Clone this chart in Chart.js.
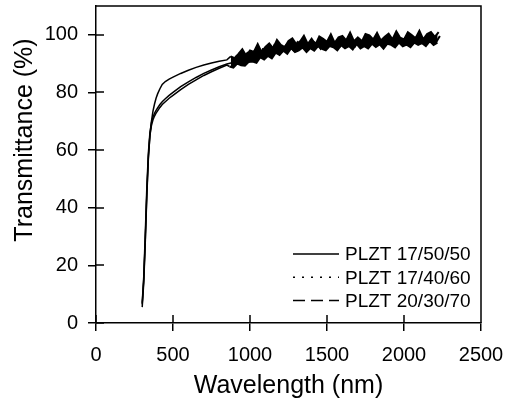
<!DOCTYPE html>
<html>
<head>
<meta charset="utf-8">
<script src="https://cdn.jsdelivr.net/npm/chart.js@4.4.0/dist/chart.umd.min.js"></script>
<style>
  html, body { margin: 0; padding: 0; background: #fff; }
  #wrap { width: 507px; height: 402px; }
</style>
</head>
<body>
<div id="wrap"><canvas id="chart"></canvas></div>
<script>
// Wavelength (nm) for each sample; the spectra were sampled on slightly offset grids
const wl175050 = [
  300, 310, 320, 330, 340, 350, 360, 370, 380, 390, 400, 415, 430, 450, 475, 500,
  550, 600, 650, 700, 750, 800, 850,
  875, 900, 925, 950, 975, 1000, 1025, 1050, 1075, 1100, 1125, 1150, 1175, 1200,
  1225, 1250, 1275, 1300, 1325, 1350, 1375, 1400, 1425, 1450, 1475, 1500, 1525,
  1550, 1575, 1600, 1625, 1650, 1675, 1700, 1725, 1750, 1775, 1800, 1825, 1850,
  1875, 1900, 1925, 1950, 1975, 2000, 2025, 2050, 2075, 2100, 2125, 2150, 2175,
  2200, 2225
];
const wl174060 = [
  300, 310, 320, 330, 340, 350, 360, 370, 380, 390, 400, 415, 430, 450, 475, 500,
  550, 600, 650, 700, 750, 800, 850,
  883, 908, 933, 958, 983, 1008, 1033, 1058, 1083, 1108, 1133, 1158, 1183, 1208,
  1233, 1258, 1283, 1308, 1333, 1358, 1383, 1408, 1433, 1458, 1483, 1508, 1533,
  1558, 1583, 1608, 1633, 1658, 1683, 1708, 1733, 1758, 1783, 1808, 1833, 1858,
  1883, 1908, 1933, 1958, 1983, 2008, 2033, 2058, 2083, 2108, 2133, 2158, 2183,
  2208, 2233
];
const wl203070 = [
  300, 310, 320, 330, 340, 350, 360, 370, 380, 390, 400, 415, 430, 450, 475, 500,
  550, 600, 650, 700, 750, 800, 850,
  867, 892, 917, 942, 967, 992, 1017, 1042, 1067, 1092, 1117, 1142, 1167, 1192,
  1217, 1242, 1267, 1292, 1317, 1342, 1367, 1392, 1417, 1442, 1467, 1492, 1517,
  1542, 1567, 1592, 1617, 1642, 1667, 1692, 1717, 1742, 1767, 1792, 1817, 1842,
  1867, 1892, 1917, 1942, 1967, 1992, 2017, 2042, 2067, 2092, 2117, 2142, 2167,
  2192, 2217
];

// Transmittance (%)
const plzt175050 = [
  5.5, 14, 28, 44, 57, 65, 70, 73.5, 76, 78, 79.5, 81.3, 82.8, 83.8, 84.6, 85.3,
  86.6, 87.7, 88.7, 89.5, 90.2, 90.8, 91.3,
  92.5, 91.9, 93.4, 95.0, 92.7, 94.6, 94.1, 96.8, 94.0, 95.8, 97.0, 95.3, 98.2, 96.5,
  95.7, 97.9, 98.8, 96.8, 97.7, 99.7, 96.8, 98.6, 96.6, 99.4, 98.6, 97.6, 100.2,
  97.2, 99.1, 99.6, 98.1, 100.8, 97.8, 99.1, 97.5, 100.3, 99.8, 98.4, 100.7, 98.0,
  99.3, 100.4, 98.4, 101.2, 99.0, 98.4, 100.9, 99.9, 98.8, 101.4, 98.4, 100.3, 101.0,
  99.3, 100.9
];
const plzt174060 = [
  7, 16, 31, 47, 59, 66, 69.5, 71.5, 72.8, 73.8, 74.6, 75.8, 76.8, 77.8, 79, 80,
  82, 83.7, 85.2, 86.6, 87.8, 88.9, 89.9,
  90.3, 92.2, 90.5, 92.4, 93.7, 91.9, 93.2, 92.1, 95.0, 94.7, 93.6, 96.4, 94.8, 94.2,
  96.3, 95.9, 94.6, 97.4, 95.7, 97.0, 95.4, 97.7, 96.9, 95.2, 97.7, 96.7, 98.5,
  96.2, 95.9, 97.8, 98.3, 96.9, 96.0, 98.7, 97.6, 96.6, 99.1, 97.0, 98.0, 96.3,
  98.7, 97.9, 96.7, 99.3, 97.4, 98.8, 96.8, 98.4, 99.3, 97.5, 96.9, 99.2, 98.8,
  97.4, 99.6
];
const plzt203070 = [
  6.5, 15, 29, 45, 57.5, 65, 68.5, 70.5, 71.8, 72.8, 73.6, 74.8, 75.8, 76.8, 78, 79,
  81, 82.8, 84.4, 85.9, 87.2, 88.4, 89.5,
  89.0, 88.6, 90.0, 89.4, 89.3, 90.6, 90.7, 90.3, 92.2, 91.4, 92.7, 91.8, 93.8, 93.0,
  94.5, 93.4, 95.4, 94.0, 94.6, 95.6, 94.0, 95.4, 94.5, 96.1, 95.1, 94.6, 96.1,
  95.7, 94.6, 96.4, 95.3, 96.1, 94.9, 96.9, 95.3, 96.1, 95.3, 96.9, 95.8, 96.7,
  95.2, 96.9, 96.5, 95.6, 97.3, 96.0, 96.6, 95.7, 97.3, 96.5, 97.1, 96.1, 97.8,
  96.5, 97.3
];

const seriesNames = ['PLZT 17/50/50', 'PLZT 17/40/60', 'PLZT 20/30/70'];
const legendDash = [[], [2, 7], [12, 6]];
const xTicks = [0, 500, 1000, 1500, 2000, 2500];
const yTicks = [0, 20, 40, 60, 80, 100];

const FONT = 'Arial, "Liberation Sans", sans-serif';
const NOISY_FROM = 860; // nm, where the traces become a dense noisy band

function toPoints(xs, ys) {
  return xs.map((w, i) => ({ x: w, y: ys[i] }));
}

// frame, inner tick halves, y title and the line-style legend
const framePlugin = {
  id: 'frame',
  afterDraw(chart) {
    const ctx = chart.ctx;
    const a = chart.chartArea;
    const xs = chart.scales.x, ys = chart.scales.y;
    ctx.save();
    ctx.strokeStyle = '#000';
    ctx.lineWidth = 1.5;
    ctx.beginPath();
    ctx.moveTo(a.left, a.top);
    ctx.lineTo(a.right, a.top);
    ctx.lineTo(a.right, a.bottom);
    xTicks.forEach(v => {
      const px = Math.round(xs.getPixelForValue(v));
      ctx.moveTo(px, a.bottom);
      ctx.lineTo(px, a.bottom - 8);
    });
    yTicks.forEach(v => {
      const py = Math.round(ys.getPixelForValue(v));
      ctx.moveTo(a.left, py);
      ctx.lineTo(a.left + 8, py);
    });
    ctx.stroke();

    // y axis title
    ctx.fillStyle = '#000';
    ctx.font = '25px ' + FONT;
    ctx.textAlign = 'center';
    ctx.textBaseline = 'middle';
    ctx.translate(25, 140);
    ctx.rotate(-Math.PI / 2);
    ctx.fillText('Transmittance (%)', 0, 0);
    ctx.restore();

    // legend
    ctx.save();
    ctx.strokeStyle = '#000';
    ctx.fillStyle = '#000';
    ctx.lineWidth = 1.5;
    ctx.font = '19px ' + FONT;
    ctx.textAlign = 'left';
    ctx.textBaseline = 'middle';
    seriesNames.forEach((name, i) => {
      const y = 254 + i * 23.3;
      ctx.setLineDash(legendDash[i]);
      ctx.beginPath();
      ctx.moveTo(293, y);
      ctx.lineTo(339, y);
      ctx.stroke();
      ctx.fillText(name, 345, y + 1);
    });
    ctx.restore();
  }
};

const wlSets = [wl175050, wl174060, wl203070];
const ctx = document.getElementById('chart').getContext('2d');
new Chart(ctx, {
  type: 'scatter',
  data: {
    datasets: [plzt175050, plzt174060, plzt203070].map((ys, i) => ({
      label: seriesNames[i],
      data: toPoints(wlSets[i], ys),
      showLine: true,
      borderColor: '#000',
      backgroundColor: '#000',
      borderWidth: 1.5,
      // the top trace is filled down to the bottom one where the noise merges them
      fill: i === 0 ? 2 : false,
      segment: {
        borderWidth: c => (c.p0.parsed.x >= NOISY_FROM ? 2 : 1.5),
        backgroundColor: c => (c.p0.parsed.x >= NOISY_FROM ? '#000' : 'rgba(0,0,0,0)')
      },
      pointRadius: 0,
      tension: 0
    }))
  },
  options: {
    responsive: true,
    maintainAspectRatio: false,
    animation: false,
    layout: { padding: { left: 0, top: 6, right: 26, bottom: 0 } },
    plugins: {
      legend: { display: false },
      tooltip: { enabled: false },
      filler: { propagate: false }
    },
    scales: {
      x: {
        type: 'linear',
        min: 0,
        max: 2500,
        afterBuildTicks: s => { s.ticks = xTicks.map(v => ({ value: v })); },
        afterFit: s => { s.height = 79; s.paddingLeft = 0; s.paddingRight = 0; },
        ticks: {
          color: '#000',
          font: { family: FONT, size: 20 },
          padding: 12,
          maxRotation: 0,
          callback: v => String(v)
        },
        grid: { drawOnChartArea: false, drawTicks: true, tickLength: 8, color: '#000', lineWidth: 1.5 },
        border: { color: '#000', width: 1.5 },
        title: {
          display: true,
          text: 'Wavelength (nm)',
          color: '#000',
          font: { family: FONT, size: 25 },
          padding: { top: 0, bottom: 1 }
        }
      },
      y: {
        min: 0,
        max: 110,
        afterBuildTicks: s => { s.ticks = yTicks.map(v => ({ value: v })); },
        afterFit: s => { s.width = 96; s.paddingTop = 0; s.paddingBottom = 0; },
        ticks: { color: '#000', font: { family: FONT, size: 20 }, padding: 10, callback: v => String(v) },
        grid: { drawOnChartArea: false, drawTicks: true, tickLength: 8, color: '#000', lineWidth: 1.5 },
        border: { color: '#000', width: 1.5 }
      }
    }
  },
  plugins: [framePlugin]
});
</script>
</body>
</html>
